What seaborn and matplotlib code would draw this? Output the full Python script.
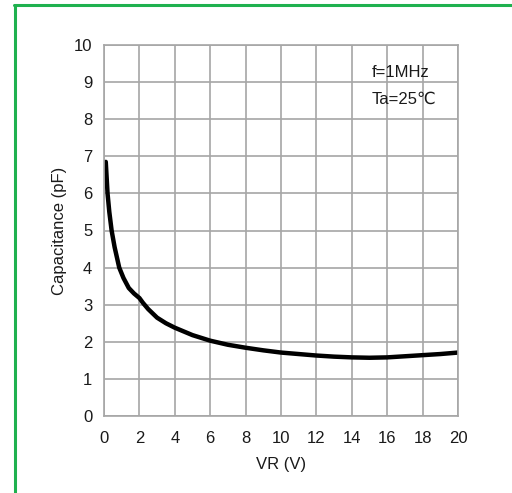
import matplotlib
matplotlib.use("Agg")
import matplotlib.pyplot as plt
import seaborn as sns
import pandas as pd
from matplotlib.lines import Line2D

vr = [0.1, 0.2, 0.3, 0.43, 0.6, 0.86, 1.1, 1.4, 1.7, 2.0, 2.2, 2.5, 3.0, 3.5, 4.0,
      5.0, 6.0, 7.0, 8.0, 9.0, 10, 11, 12, 13, 14, 15, 16, 17, 18, 19, 20]
cap = [6.85, 6.0, 5.5, 5.0, 4.55, 4.0, 3.72, 3.45, 3.3, 3.18, 3.05, 2.88, 2.65, 2.5, 2.38,
       2.18, 2.03, 1.92, 1.84, 1.77, 1.71, 1.67, 1.63, 1.60, 1.58, 1.57, 1.58, 1.61, 1.64, 1.67, 1.71]
x_ticks = list(range(0, 21, 2))
y_ticks = list(range(0, 11))

sns.set_style("white")
plt.rcParams['font.family'] = ['Liberation Sans', 'DejaVu Sans']

fig = plt.figure(figsize=(5.12, 4.93), dpi=100)
ax = fig.add_axes([104/512, 1-416/493, (458-104)/512, (416-45)/493])

df = pd.DataFrame({"VR": vr, "C": cap})
sns.lineplot(data=df, x="VR", y="C", ax=ax, color="black", linewidth=3.2)

fs = 12
ax.set_xlim(0, 20)
ax.set_ylim(0, 10)
ax.set_xticks(x_ticks)
ax.set_yticks(y_ticks)
ax.grid(True, color="#a6a6a6", linewidth=1.2)
ax.set_axisbelow(True)
for s in ax.spines.values():
    s.set_color("#a6a6a6")
    s.set_linewidth(1.2)
ax.tick_params(axis="both", length=5, width=1.2, color="#a6a6a6", labelsize=fs,
               labelcolor="#1a1a1a", direction="out")
ax.tick_params(axis="x", pad=6)
ax.set_xlabel("VR (V)", fontsize=fs, color="#1a1a1a", labelpad=8)
ax.set_ylabel("Capacitance (pF)", fontsize=fs, color="#1a1a1a", labelpad=5)

ax.text(0.755, 0.925, "f=1MHz", transform=ax.transAxes, fontsize=fs, color="#1a1a1a", va="center")
ax.text(0.755, 0.855, "Ta=25\u2103", transform=ax.transAxes, fontsize=fs, color="#1a1a1a", va="center")

green = "#1fb14f"
fig.add_artist(Line2D([15/512, 15/512], [1-5/493, 0], transform=fig.transFigure, color=green, linewidth=2.2))
fig.add_artist(Line2D([14/512, 1], [1-5/493, 1-5/493], transform=fig.transFigure, color=green, linewidth=2.2))

fig.savefig("out.png", dpi=100)
